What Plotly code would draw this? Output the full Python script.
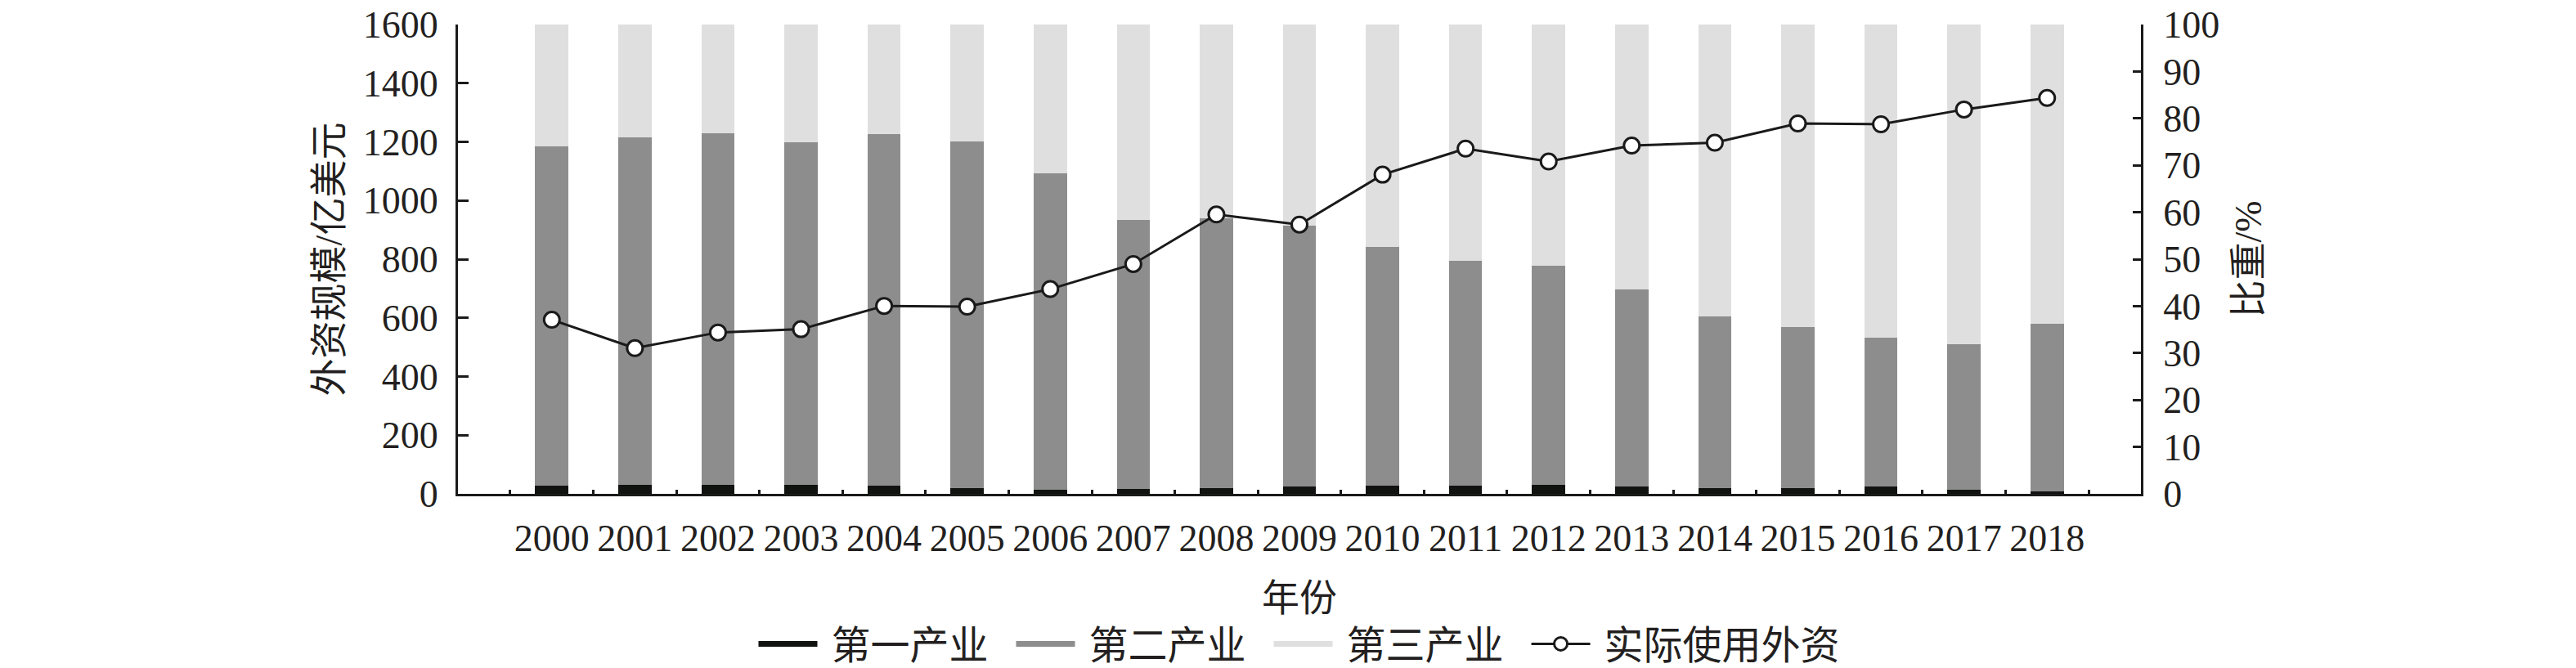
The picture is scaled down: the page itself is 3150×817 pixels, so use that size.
import plotly.graph_objs as go

# Years and data
years = [str(y) for y in range(2000, 2019)]
# share of actually used foreign capital by industry, %
primary_share = [1.66, 1.90, 1.95, 1.86, 1.82, 1.19, 0.95, 1.12, 1.29, 1.59,
                 1.81, 1.73, 1.86, 1.53, 1.28, 1.21, 1.51, 0.81, 0.59]
secondary_share = [72.4, 74.1, 74.8, 73.1, 74.9, 73.9, 67.3, 57.3, 57.5, 55.6,
                   50.8, 48.0, 46.7, 42.1, 36.6, 34.4, 31.8, 31.1, 35.7]
tertiary_share = [round(100 - a - b, 2) for a, b in zip(primary_share, secondary_share)]
# actually used foreign capital, 100 million USD
fdi_total = [593.6, 496.7, 550.1, 561.4, 640.7, 638.1, 698.0, 783.4, 952.5, 918.0,
             1088.2, 1177.0, 1132.9, 1187.2, 1197.1, 1262.7, 1260.0, 1310.4, 1349.7]

industry_names = ["第一产业", "第二产业", "第三产业"]
industry_colors = ["#111311", "#8e8d8e", "#dfdfdf"]
line_name = "实际使用外资"

TEXT = "#231f20"
FONT = "Liberation Serif, Noto Sans CJK SC, serif"
SIZE = 46
NB = "\u00a0"


def make_chart():
    data = []
    # stacked share bars (right axis)
    for name, vals, col in zip(industry_names,
                               [primary_share, secondary_share, tertiary_share],
                               industry_colors):
        data.append(go.Bar(x=years, y=vals, name=name, marker=dict(color=col, line=dict(width=0)),
                           yaxis="y", showlegend=False))
    # legend entries drawn as short thick lines, like the original
    for name, col in zip(industry_names, industry_colors):
        data.append(go.Scatter(x=[None], y=[None], mode="lines", name=NB + name + NB * 2,
                               line=dict(color=col, width=7), yaxis="y"))
    # total foreign capital line (left axis)
    data.append(go.Scatter(x=years, y=fdi_total, name=NB + line_name, mode="lines+markers",
                           line=dict(color="#1a1a1a", width=3),
                           marker=dict(size=19, color="white", line=dict(color="#1a1a1a", width=3)),
                           yaxis="y2"))

    axis_common = dict(showline=True, linecolor="#1a1a1a", linewidth=3, ticks="inside",
                       tickwidth=2.5, tickcolor="#1a1a1a", showgrid=False, zeroline=False,
                       automargin=False, ticklabeloverflow="allow")
    layout = go.Layout(
        width=3150, height=817,
        paper_bgcolor="white", plot_bgcolor="white",
        margin=dict(l=560, r=532, t=30, b=213, autoexpand=False),
        barmode="stack", bargap=0.6,
        font=dict(family=FONT, size=SIZE, color=TEXT),
        xaxis=dict(type="category", tickson="boundaries", ticklen=5, tickangle=0,
                   ticklabelstandoff=12,
                   title=dict(text="年份", standoff=32, font=dict(size=SIZE)),
                   **axis_common),
        yaxis=dict(range=[0, 100], dtick=10, side="right", ticklen=10,
                   ticklabelstandoff=15,
                   title=dict(text="比重/%", standoff=20, font=dict(size=SIZE)),
                   **axis_common),
        yaxis2=dict(range=[0, 1600], dtick=200, side="left", overlaying="y", ticklen=13,
                    ticklabelstandoff=12,
                    title=dict(text="外资规模/亿美元", standoff=11, font=dict(size=SIZE)),
                    **axis_common),
        legend=dict(orientation="h", x=0.5, xanchor="center", y=-0.32, yanchor="middle",
                    itemwidth=72, font=dict(size=48), traceorder="normal"),
    )

    fig = go.Figure(data=data, layout=layout)
    # drop the default page margin so the figure sits flush in the window
    fig.write_html("out.html", config={"displayModeBar": False},
                   post_script="document.body.style.margin='0';document.body.style.overflow='hidden';")


if __name__ == "__main__":
    make_chart()
